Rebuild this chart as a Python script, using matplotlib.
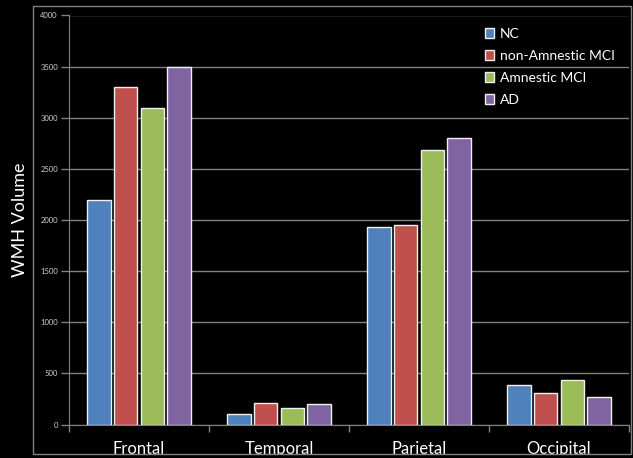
import matplotlib
matplotlib.use("Agg")
import matplotlib.pyplot as plt
import numpy as np
from matplotlib.patches import Rectangle

regions = ["Frontal", "Temporal", "Parietal", "Occipital"]
groups = ["NC", "non-Amnestic MCI", "Amnestic MCI", "AD"]
nc = [2200, 105, 1930, 390]
non_amnestic = [3300, 215, 1950, 305]
amnestic = [3100, 165, 2680, 432]
ad = [3500, 205, 2800, 272]
colors = ["#4f81bd", "#c0504d", "#9bbb59", "#8064a2"]

plt.rcParams['font.family'] = ['Lato', 'DejaVu Sans']

fig = plt.figure(figsize=(6.33, 4.58), dpi=100, facecolor="black")
ax = fig.add_axes([69 / 633, 1 - 424.5 / 458, 560 / 633, 409 / 458])
ax.set_facecolor("black")

x = np.arange(len(regions))
w = 0.167
step = 0.19
for i, (vals, name) in enumerate(zip([nc, non_amnestic, amnestic, ad], groups)):
    ax.bar(x + (i - 1.5) * step, vals, width=w, color=colors[i],
           edgecolor="#f0f0f0", linewidth=1.0, label=name, zorder=3)

ax.set_xlim(-0.5, 3.5)
ax.set_ylim(0, 4000)
ax.set_yticks(range(0, 4001, 500))
ax.yaxis.grid(True, color="#808080", linewidth=1.0, zorder=0)
ax.tick_params(axis="y", colors="#808080", labelcolor="#d0d0d0",
               labelsize=5.5, length=6, width=1, pad=2)

# category boundary ticks on the x axis
ax.set_xticks([-0.5, 0.5, 1.5, 2.5, 3.5])
ax.set_xticklabels([])
ax.tick_params(axis="x", colors="#808080", length=5, width=1, direction="out")
for i, r in enumerate(regions):
    ax.text(i, -0.04, r, transform=ax.get_xaxis_transform(), ha="center",
            va="top", color="white", fontsize=12)

for s in ["top", "right"]:
    ax.spines[s].set_visible(False)
for s in ["left", "bottom"]:
    ax.spines[s].set_color("#808080")

fig.text(20 / 633, 1 - 220 / 458, "WMH Volume", rotation=90, ha="center",
         va="center", color="white", fontsize=13)

leg = ax.legend(loc="upper left", bbox_to_anchor=(0.72, 1.0), frameon=False,
                fontsize=10, handlelength=0.7, handleheight=0.7,
                handletextpad=0.4, labelspacing=0.72, labelcolor="white")

# outer chart frame, cutting the category labels at the bottom
fig.patches.append(Rectangle((0, 0), 1, 1 - 453.5 / 458, transform=fig.transFigure,
                             facecolor="black", edgecolor="none", zorder=10))
fig.patches.append(Rectangle((33 / 633, 1 - 453.5 / 458), 598 / 633, 447.5 / 458,
                             transform=fig.transFigure, facecolor="none",
                             edgecolor="#808080", linewidth=1, zorder=11))

fig.savefig("out.png", dpi=100, facecolor="black")
